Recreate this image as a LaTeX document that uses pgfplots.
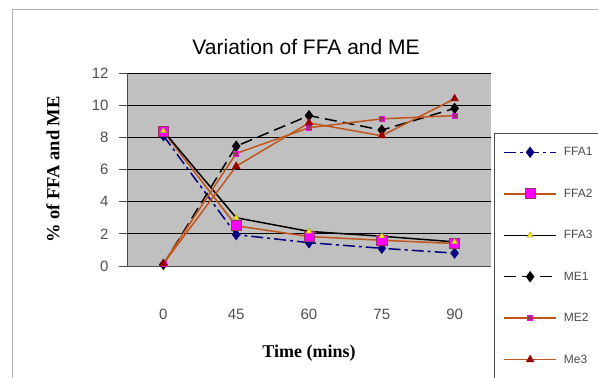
\documentclass[border=0pt]{standalone}
\usepackage{fontspec}
\setmainfont{Liberation Sans}
\newfontfamily\lblfont{Liberation Serif}
\usepackage{pgfplots}
\pgfplotsset{compat=1.18}

\definecolor{plotbg}{HTML}{C0C0C0}
\definecolor{navyline}{HTML}{000080}
\definecolor{rust}{HTML}{C0561E}
\definecolor{mag}{HTML}{FF00FF}
\definecolor{plum}{HTML}{993366}
\definecolor{darkred}{HTML}{990000}
\definecolor{ticktext}{HTML}{505050}

\begin{document}
\begin{tikzpicture}
\useasboundingbox (0pt,0pt) rectangle (598pt,378pt);
% chart area frame
\draw[gray!60, line width=1pt] (12pt,-5pt) -- (12pt,368pt) -- (605pt,368pt);

\begin{axis}[
  at={(127pt,112pt)}, anchor=south west,
  scale only axis, width=364pt, height=193pt,
  xmin=-0.5, xmax=4.5, ymin=0, ymax=12,
  axis background/.style={fill=plotbg},
  axis line style={draw=black!70, line width=0.8pt},
  axis x line*=bottom, axis y line*=left,
  ytick={0,2,...,12},
  ymajorgrids, grid style={black, line width=0.8pt},
  xtick={0,1,2,3,4},
  xticklabels={0,45,60,75,90},
  minor xtick={-0.5,0.5,1.5,2.5,3.5,4.5},
  tick align=outside,
  major tick length=8pt, minor tick length=9pt,
  xtick style={draw=none},
  minor tick style={black!70, line width=0.8pt},
  ytick style={black!70, line width=0.8pt},
  /pgf/number format/assume math mode=true,
  tick label style={font=\fontsize{15}{17}\selectfont, text=ticktext},
  x tick label style={anchor=center, yshift=-40pt},
  y tick label style={anchor=east, xshift=-7pt},
  title={Variation of FFA and ME},
  title style={at={(axis description cs:0.492,1.1036)}, anchor=center,
               font=\fontsize{21}{24}\selectfont},
  xlabel={Time (mins)},
  xlabel style={at={(axis description cs:0.5,-0.4508)}, anchor=center,
                font=\lblfont\bfseries\fontsize{18}{21}\selectfont},
  ylabel={\% of FFA and ME},
  ylabel style={at={(axis description cs:-0.2033,0.5)}, anchor=center,
                font=\lblfont\bfseries\fontsize{18.5}{21}\selectfont},
  legend cell align=left,
  legend style={at={(axis description cs:1.0082,0.689)}, anchor=north west,
                draw=black!70, line width=0.8pt, fill=white,
                font=\fontsize{12}{14}\selectfont, text=black!70,
                inner xsep=9pt, inner ysep=14pt,
                row sep=31.6pt, column sep=7pt,
                nodes={inner sep=0pt}},
  legend image code/.code={%
    \draw[mark repeat=2,mark phase=2,#1]
      plot coordinates {(0pt,0pt) (26pt,0pt) (52pt,0pt)};},
  every axis plot/.append style={line width=1.5pt},
]

% free fatty acids
\addplot[navyline, dash pattern=on 12pt off 4pt on 3pt off 4pt,
  mark=diamond*, mark size=4.5pt, mark options={solid, fill=navyline, draw=navyline}]
  coordinates {(0,8.1) (1,1.95) (2,1.45) (3,1.1) (4,0.8)};
\addlegendentry{FFA1}

\addplot[rust, mark=square*, mark size=5pt,
  mark options={solid, fill=mag, draw=plum, line width=0.6pt}]
  coordinates {(0,8.35) (1,2.5) (2,1.83) (3,1.6) (4,1.4)};
\addlegendentry{FFA2}

\addplot[black, mark=triangle*, mark size=3.5pt,
  mark options={solid, fill=yellow, draw=yellow!60!black, line width=0.5pt}]
  coordinates {(0,8.4) (1,3.0) (2,2.15) (3,1.85) (4,1.5)};
\addlegendentry{FFA3}

% methyl esters
\addplot[black, dash pattern=on 12pt off 6pt,
  mark=diamond*, mark size=4.5pt, mark options={solid, fill=black}]
  coordinates {(0,0.1) (1,7.45) (2,9.35) (3,8.45) (4,9.8)};
\addlegendentry{ME1}

\addplot[rust, mark=square*, mark size=2.5pt,
  mark options={solid, fill=plum, draw=mag!70!plum, line width=0.5pt}]
  coordinates {(0,0.15) (1,7.0) (2,8.6) (3,9.15) (4,9.35)};
\addlegendentry{ME2}

\addplot[rust, mark=triangle*, mark size=3.5pt,
  mark options={solid, fill=darkred, draw=darkred}]
  coordinates {(0,0.15) (1,6.2) (2,8.9) (3,8.1) (4,10.4)};
\addlegendentry{Me3}

\end{axis}
\end{tikzpicture}
\end{document}
